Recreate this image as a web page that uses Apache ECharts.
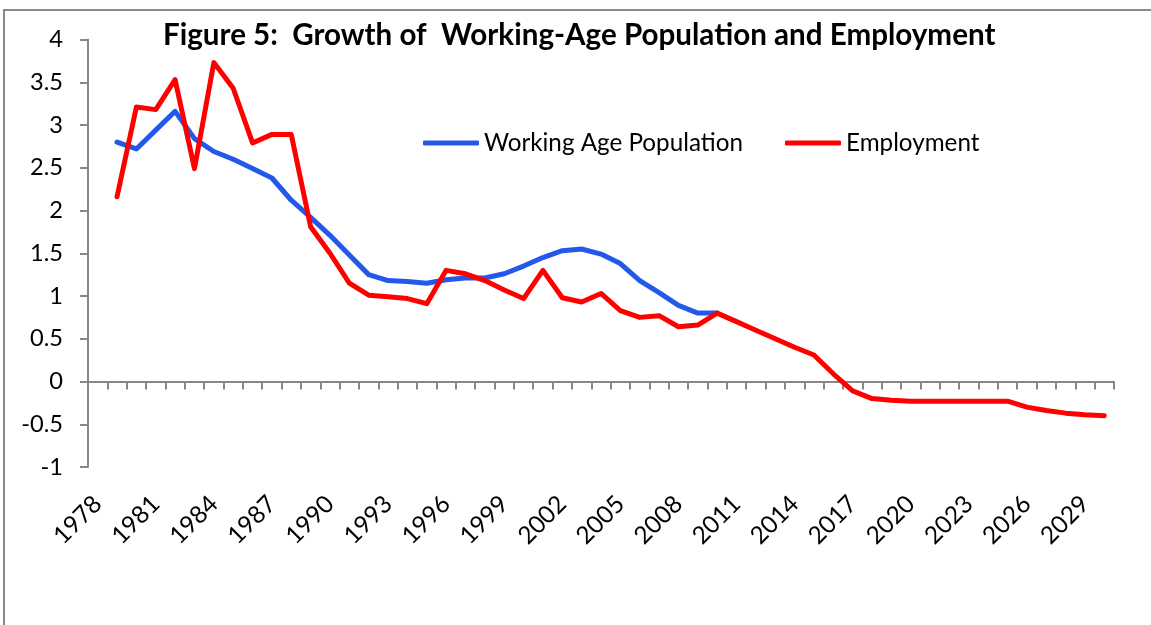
<!DOCTYPE html>
<html>
<head>
<meta charset="utf-8">
<script src="https://cdn.jsdelivr.net/npm/echarts@6/dist/echarts.min.js"></script>
<style>
html,body{margin:0;padding:0;background:#fff;}
#chart{width:1151px;height:625px;}
</style>
</head>
<body>
<div id="chart"></div>
<script>
// ---- data ----
const titleText = 'Figure 5:  Growth of  Working-Age Population and Employment';
const seriesNames = ['Working Age Population', 'Employment'];
const years = ['1978','1979','1980','1981','1982','1983','1984','1985','1986','1987',
  '1988','1989','1990','1991','1992','1993','1994','1995','1996','1997',
  '1998','1999','2000','2001','2002','2003','2004','2005','2006','2007',
  '2008','2009','2010','2011','2012','2013','2014','2015','2016','2017',
  '2018','2019','2020','2021','2022','2023','2024','2025','2026','2027',
  '2028','2029','2030'];
const workingAgePop = [null, 2.80, 2.72, 2.94, 3.16, 2.84, 2.69, 2.60, 2.49, 2.38,
  2.12, 1.92, 1.71, 1.48, 1.25, 1.18, 1.17, 1.15, 1.19, 1.21,
  1.21, 1.26, 1.35, 1.45, 1.53, 1.55, 1.49, 1.38, 1.18, 1.04,
  0.89, 0.80, 0.80];
const employment = [null, 2.16, 3.21, 3.18, 3.53, 2.49, 3.73, 3.43, 2.79, 2.89,
  2.89, 1.81, 1.50, 1.15, 1.01, 0.99, 0.97, 0.91, 1.30, 1.26,
  1.18, 1.07, 0.97, 1.30, 0.98, 0.93, 1.03, 0.83, 0.75, 0.77,
  0.64, 0.66, 0.80, 0.70, 0.60, 0.50, 0.40, 0.31, 0.09, -0.11,
  -0.20, -0.22, -0.23, -0.23, -0.23, -0.23, -0.23, -0.23, -0.30, -0.34,
  -0.37, -0.39, -0.40];
const yMin = -1, yMax = 4, yStep = 0.5;

// ---- styling helpers ----
const FONT = 'Lato';
function fitSize(text, weight, target) {
  const ctx = document.createElement('canvas').getContext('2d');
  ctx.font = weight + ' 100px ' + FONT;
  return 100 * target / ctx.measureText(text).width;
}
const axisFont = fitSize('3.5', 'normal', 33);
const legendFont = fitSize('Working Age Population', 'normal', 259);
const titleFont = fitSize(titleText, 'bold', 833);

const axisGray = '#878787';
const blue = '#2458E8';
const red = '#FF0000';

const chart = echarts.init(document.getElementById('chart'), null, {renderer: 'canvas'});
chart.setOption({
  animation: false,
  backgroundColor: '#fff',
  title: {
    text: titleText,
    left: 163,
    top: 49 - 0.95 * titleFont,
    padding: 0,
    textStyle: {fontFamily: FONT, fontWeight: 'bold', fontSize: titleFont, color: '#000'}
  },
  legend: [
    {
      data: [seriesNames[0]], left: 423, top: 130, padding: 0,
      icon: 'roundRect', itemWidth: 56, itemHeight: 5,
      textStyle: {fontFamily: FONT, fontSize: legendFont, color: '#000', lineHeight: 26}
    },
    {
      data: [seriesNames[1]], left: 785, top: 130, padding: 0,
      icon: 'roundRect', itemWidth: 56, itemHeight: 5,
      textStyle: {fontFamily: FONT, fontSize: legendFont, color: '#000', lineHeight: 26}
    }
  ],
  grid: {left: 88, right: 37, top: 39.5, bottom: 158, containLabel: false, outerBoundsMode: 'none'},
  graphic: [{
    type: 'rect', silent: true, z: -10,
    shape: {x: 4, y: 10, width: 1300, height: 800},
    style: {fill: 'none', stroke: '#8a8a8a', lineWidth: 2}
  }],
  xAxis: [
    {
      type: 'category', data: years, boundaryGap: true,
      axisLine: {show: true, onZero: true, lineStyle: {color: axisGray, width: 2}},
      axisTick: {show: true, interval: 0, length: 8, lineStyle: {color: axisGray, width: 2}},
      axisLabel: {show: false},
      splitLine: {show: false}
    },
    {
      type: 'category', data: years, boundaryGap: true, position: 'bottom',
      axisLine: {show: false, onZero: false},
      axisTick: {show: false},
      axisLabel: {show: true, interval: 2, rotate: 45, margin: 33,
        fontFamily: FONT, fontSize: axisFont * 1.03, color: '#000'},
      splitLine: {show: false}
    }
  ],
  yAxis: {
    type: 'value', min: yMin, max: yMax, interval: yStep,
    axisLine: {show: true, lineStyle: {color: axisGray, width: 2}},
    axisTick: {show: true, length: 8, lineStyle: {color: axisGray, width: 2}},
    axisLabel: {margin: 25, fontFamily: FONT, fontSize: axisFont, color: '#000',
      formatter: v => String(v)},
    splitLine: {show: false}
  },
  series: [
    {
      name: seriesNames[0], type: 'line', data: workingAgePop, xAxisIndex: 0,
      showSymbol: false, symbol: 'none', connectNulls: false,
      lineStyle: {color: blue, width: 5, cap: 'round', join: 'round'},
      itemStyle: {color: blue}, z: 2
    },
    {
      name: seriesNames[1], type: 'line', data: employment, xAxisIndex: 0,
      showSymbol: false, symbol: 'none', connectNulls: false,
      lineStyle: {color: red, width: 5, cap: 'round', join: 'round'},
      itemStyle: {color: red}, z: 3
    }
  ]
});
</script>
</body>
</html>
